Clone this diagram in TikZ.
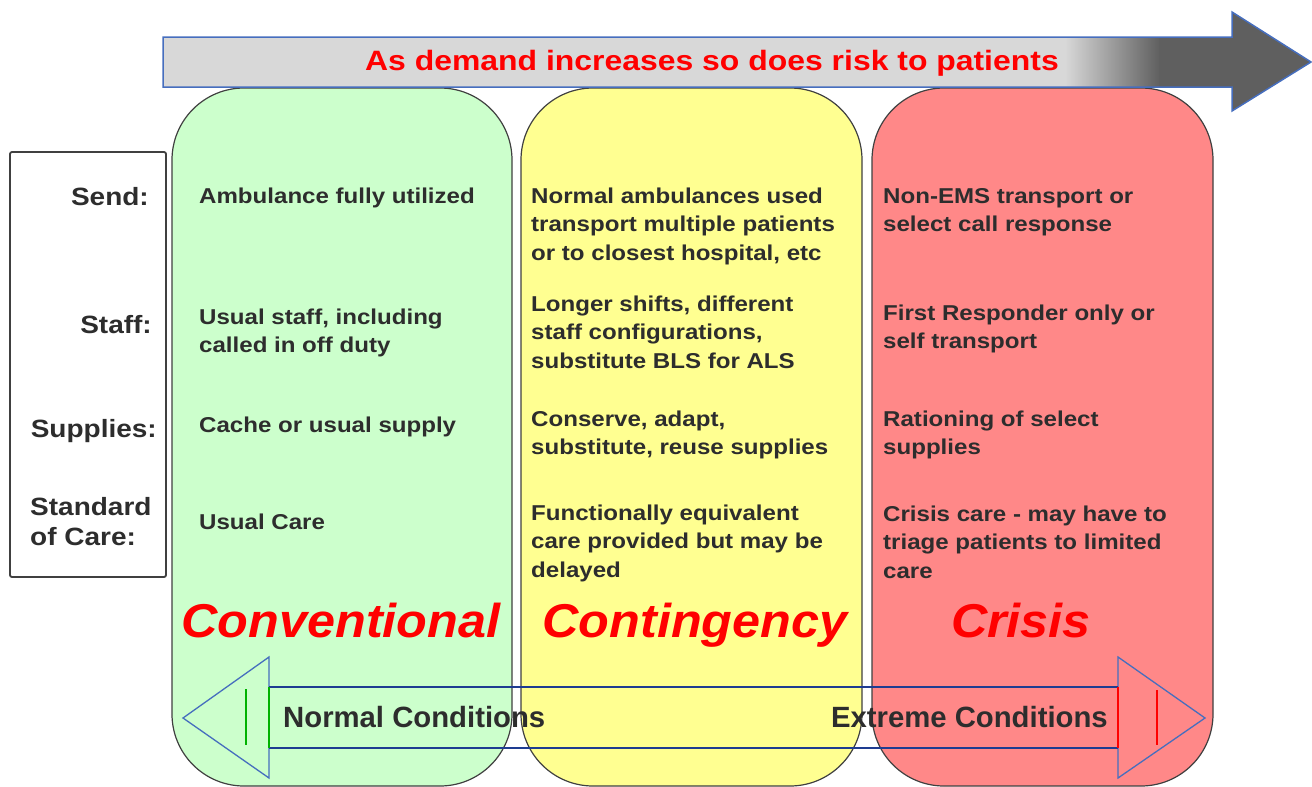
\documentclass[tikz,border=0pt]{standalone}
\usepackage{fontspec}
\setmainfont{Liberation Sans}
\newfontfamily\bodyfont{Liberation Sans}[FakeStretch=1.12]
\newfontfamily\bannerfont{Liberation Sans}[FakeStretch=1.14]
\newfontfamily\titlefont{Liberation Sans}[FakeStretch=1.06]
\definecolor{greenfill}{RGB}{204,255,204}
\definecolor{yellowfill}{RGB}{255,255,145}
\definecolor{redfill}{RGB}{255,136,136}
\definecolor{edgegray}{RGB}{64,64,64}
\definecolor{inkgray}{RGB}{45,45,45}
\definecolor{bannerlight}{RGB}{216,216,216}
\definecolor{bannerdark}{RGB}{95,95,95}
\definecolor{outlineblue}{RGB}{70,110,190}
\definecolor{shaftblue}{RGB}{30,60,145}
\begin{document}
\begin{tikzpicture}[x=1pt,y=-1pt,
  column/.style={draw=edgegray,line width=1.2pt,rounded corners=72pt},
  % multi-line cells are placed by the baseline of their last line
  cell/.style={anchor=base west,align=left,inner sep=0pt,text=inkgray,
    font=\bodyfont\bfseries\fontsize{21.5}{28.5}\selectfont},
  rowlabel/.style={anchor=base east,inner sep=0pt,text=inkgray,
    font=\bodyfont\bfseries\fontsize{25}{30}\selectfont},
  phase/.style={anchor=base,inner sep=0pt,text=red,
    font=\titlefont\bfseries\itshape\fontsize{47.5}{50}\selectfont},
  condition/.style={inner sep=0pt,text=inkgray,
    font=\bfseries\fontsize{29.3}{30}\selectfont},
  headline/.style={draw=outlineblue,line width=1.3pt,line join=miter},
  shaftline/.style={draw=shaftblue,line width=1.3pt}]
\useasboundingbox (0,0) rectangle (1312,787);

% three phase columns
\path[column,fill=greenfill]  (172,88) rectangle (512,786);
\path[column,fill=yellowfill] (521,88) rectangle (862,786);
\path[column,fill=redfill]    (872,88) rectangle (1213,786);

% demand banner arrow
\def\bannerpath{(163,37) -- (1232,37) -- (1232,12) -- (1311,62) -- (1232,111) -- (1232,87) -- (163,87) -- cycle}
\fill[bannerlight] \bannerpath;
\begin{scope}
  \clip \bannerpath;
  \fill[left color=bannerlight,right color=bannerdark] (1065,0) rectangle (1160,120);
  \fill[bannerdark] (1159,0) rectangle (1315,120);
\end{scope}
\draw[outlineblue,line width=1.5pt,line join=miter] \bannerpath;
\node[anchor=base,inner sep=0pt,text=red,font=\bannerfont\bfseries\fontsize{28}{30}\selectfont]
  (banner) at (712,70) {As demand increases so does risk to patients};

% row label box
\draw[edgegray,line width=1.8pt,rounded corners=2pt] (10,152) rectangle (166,577);
\node[rowlabel] (lsend) at (149,205) {Send:};
\node[rowlabel] (lstaff) at (152,333) {Staff:};
\node[rowlabel] (lsupp) at (157,437) {Supplies:};
\node[rowlabel,anchor=base west,align=left] (lcare) at (30,545) {Standard\\of Care:};

% conventional column
\node[cell] (gsend) at (199,203) {Ambulance fully utilized};
\node[cell] (gstaff) at (199,352.5) {Usual staff, including\\called in off duty};
\node[cell] (gsupp) at (199,432) {Cache or usual supply};
\node[cell] (gcare) at (199,529) {Usual Care};

% contingency column
\node[cell] (ysend) at (531,260) {Normal ambulances used\\transport multiple patients\\or to closest hospital, etc};
\node[cell] (ystaff) at (531,368) {Longer shifts, different\\staff configurations,\\substitute BLS for ALS};
\node[cell] (ysupp) at (531,454.5) {Conserve, adapt,\\substitute, reuse supplies};
\node[cell] (ycare) at (531,577) {Functionally equivalent\\care provided but may be\\delayed};

% crisis column
\node[cell] (rsend) at (883,231.5) {Non-EMS transport or\\select call response};
\node[cell] (rstaff) at (883,348.5) {First Responder only or\\self transport};
\node[cell] (rsupp) at (883,454.5) {Rationing of select\\supplies};
\node[cell] (rcare) at (883,578) {Crisis care - may have to\\triage patients to limited\\care};

% phase titles
\node[phase] (conv) at (341,637) {Conventional};
\node[phase] (cont) at (695,637) {Contingency};
\node[phase] (cris) at (1021,637) {Crisis};

% two-headed conditions arrow
\coordinate (ltip) at (183,718);
\coordinate (rtip) at (1205,718);
\draw[headline] (269,687) -- (269,657) -- (ltip) -- (269,778) -- (269,748);
\draw[headline] (1118,687) -- (1118,657) -- (rtip) -- (1118,778) -- (1118,748);
\draw[shaftline] (269,687) -- (1118,687);
\draw[shaftline] (269,748) -- (1118,748);
\draw[green!70!black,line width=1.3pt] (269,687) -- (269,748);
\draw[green!70!black,line width=1.3pt] (246,689) -- (246,745);
\draw[red,line width=1.3pt] (1118,687) -- (1118,748);
\draw[red,line width=1.3pt] (1157,690) -- (1157,745);
\node[condition,anchor=base west] (normal) at (283,727) {Normal Conditions};
\node[condition,anchor=base east] (extreme) at (1108,727) {Extreme Conditions};
\end{tikzpicture}
\end{document}
